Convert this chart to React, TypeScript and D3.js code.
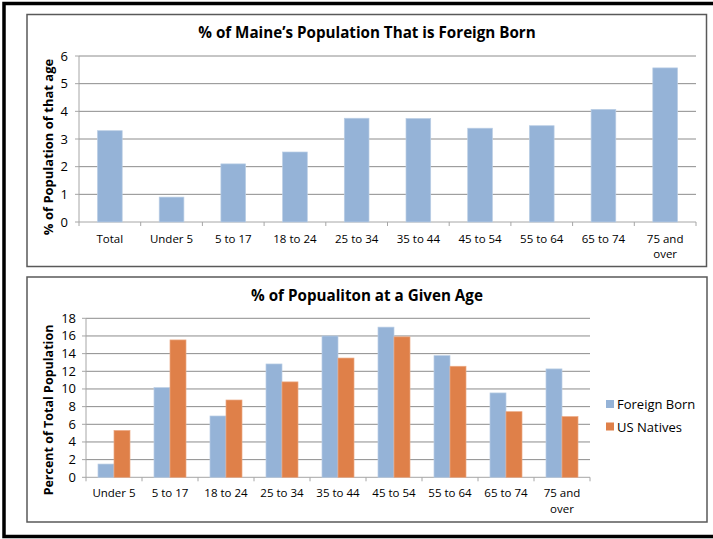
import React from "react";
import * as d3 from "d3";

const topCategories = ["Total", "Under 5", "5 to 17", "18 to 24", "25 to 34", "35 to 44", "45 to 54", "55 to 64", "65 to 74", "75 and over"];
const topValues = [3.3, 0.9, 2.1, 2.53, 3.75, 3.74, 3.39, 3.48, 4.07, 5.57];
const topTicks = [0, 1, 2, 3, 4, 5, 6];

const bottomCategories = ["Under 5", "5 to 17", "18 to 24", "25 to 34", "35 to 44", "45 to 54", "55 to 64", "65 to 74", "75 and over"];
const foreignBorn = [1.5, 10.15, 6.94, 12.83, 16.0, 17.0, 13.77, 9.55, 12.27];
const usNatives = [5.3, 15.55, 8.75, 10.8, 13.5, 15.9, 12.57, 7.43, 6.87];
const bottomTicks = [0, 2, 4, 6, 8, 10, 12, 14, 16, 18];
const seriesNames = ["Foreign Born", "US Natives"];

const BLUE = "#95B3D7";
const ORANGE = "#DF8049";
const GRID = "#8c8c8c";
const AXIS = "#a6a6a6";
const FONT = "'Open Sans', 'DejaVu Sans', sans-serif";

function splitLabel(s: string): string[] {
  if (s === "75 and over") return ["75 and", "over"];
  return [s];
}

function TopChart() {
  const x = d3.scaleBand<string>().domain(topCategories).range([79, 696]).paddingInner(0.6).paddingOuter(0.3);
  const band = d3.scaleBand<string>().domain(topCategories).range([79, 696]);
  const y = d3.scaleLinear().domain([0, 6]).range([222, 56]);
  return (
    <g>
      <rect x={27} y={14.5} width={679.5} height={252} fill="white" stroke="#595959" strokeWidth={1.5} />
      <text x={367} y={38} textAnchor="middle" fontFamily={FONT} fontWeight="bold" fontSize={15.2} fill="#000">
        % of Maine’s Population That is Foreign Born
      </text>
      {topTicks.map((t) => (
        <g key={t}>
          {t > 0 && <line x1={79} x2={696} y1={y(t)} y2={y(t)} stroke={GRID} strokeWidth={1} />}
          <text x={68} y={y(t) + 4.5} textAnchor="end" fontFamily={FONT} fontSize={13} fill="#000">{t}</text>
          <line x1={75} x2={79} y1={y(t)} y2={y(t)} stroke={AXIS} />
        </g>
      ))}
      <line x1={79} x2={79} y1={y(6)} y2={y(0)} stroke={AXIS} strokeWidth={1} />
      <line x1={79} x2={696} y1={y(0)} y2={y(0)} stroke={AXIS} strokeWidth={1} />
      {topCategories.map((c, i) => (
        <g key={c}>
          <rect x={x(c)} y={y(topValues[i])} width={x.bandwidth()} height={y(0) - y(topValues[i])} fill={BLUE} stroke="#b9cde4" strokeWidth={0.7} />
          <line x1={(band(c) as number)} x2={(band(c) as number)} y1={y(0)} y2={y(0) + 4} stroke={AXIS} />
          {splitLabel(c).map((l, j) => (
            <text key={j} x={(band(c) as number) + band.bandwidth() / 2} y={242.5 + j * 15.5} textAnchor="middle" fontFamily={FONT} fontSize={11.5} fill="#000">{l}</text>
          ))}
        </g>
      ))}
      <line x1={696} x2={696} y1={y(0)} y2={y(0) + 4} stroke={AXIS} />
      <text transform={`translate(53,147) rotate(-90)`} textAnchor="middle" fontFamily={FONT} fontWeight="bold" fontSize={13} fill="#000">
        % of Population of that age
      </text>
    </g>
  );
}

function BottomChart() {
  const band = d3.scaleBand<string>().domain(bottomCategories).range([86, 590]);
  const inner = d3.scaleBand<string>().domain(seriesNames).range([0, band.bandwidth()]).paddingOuter(0.75).paddingInner(0);
  const y = d3.scaleLinear().domain([0, 18]).range([477.3, 318.3]);
  const series = [foreignBorn, usNatives];
  const colors = [BLUE, ORANGE];
  const edge = ["#b9cde4", "#eba883"];
  return (
    <g>
      <rect x={27} y={277} width={680} height={245} fill="white" stroke="#595959" strokeWidth={1.5} />
      <text x={367} y={301} textAnchor="middle" fontFamily={FONT} fontWeight="bold" fontSize={15.2} fill="#000">
        % of Popualiton at a Given Age
      </text>
      {bottomTicks.map((t) => (
        <g key={t}>
          {t > 0 && <line x1={86} x2={590} y1={y(t)} y2={y(t)} stroke={GRID} strokeWidth={1} />}
          <text x={76} y={y(t) + 4.5} textAnchor="end" fontFamily={FONT} fontSize={13} fill="#000">{t}</text>
          <line x1={82} x2={86} y1={y(t)} y2={y(t)} stroke={AXIS} />
        </g>
      ))}
      <line x1={86} x2={86} y1={y(18)} y2={y(0)} stroke={AXIS} />
      <line x1={86} x2={590} y1={y(0)} y2={y(0)} stroke={AXIS} />
      {bottomCategories.map((c, i) => (
        <g key={c}>
          {series.map((s, k) => (
            <rect key={k} x={(band(c) as number) + (inner(seriesNames[k]) as number)} y={y(s[i])} width={inner.bandwidth()} height={y(0) - y(s[i])} fill={colors[k]} stroke={edge[k]} strokeWidth={0.7} />
          ))}
          <line x1={band(c) as number} x2={band(c) as number} y1={y(0)} y2={y(0) + 4} stroke={AXIS} />
          {splitLabel(c).map((l, j) => (
            <text key={j} x={(band(c) as number) + band.bandwidth() / 2} y={497 + j * 15.5} textAnchor="middle" fontFamily={FONT} fontSize={11.5} fill="#000">{l}</text>
          ))}
        </g>
      ))}
      <line x1={590} x2={590} y1={y(0)} y2={y(0) + 4} stroke={AXIS} />
      <text transform={`translate(53,410) rotate(-90)`} textAnchor="middle" fontFamily={FONT} fontWeight="bold" fontSize={12.5} fill="#000">
        Percent of Total Population
      </text>
      {seriesNames.map((n, k) => (
        <g key={n}>
          <rect x={606} y={400 + k * 22.5} width={8} height={8} fill={colors[k]} />
          <text x={617} y={409 + k * 22.5} fontFamily={FONT} fontSize={13} fill="#000">{n}</text>
        </g>
      ))}
    </g>
  );
}

export default function App() {
  return (
    <svg width={713} height={539} style={{ position: "absolute", left: 0, top: 0, background: "white" }}>
      <rect x={0} y={0} width={713} height={539} fill="white" />
      <rect x={4} y={3.5} width={730} height={533} fill="none" stroke="#000" strokeWidth={3.5} />
      <TopChart />
      <BottomChart />
    </svg>
  );
}
